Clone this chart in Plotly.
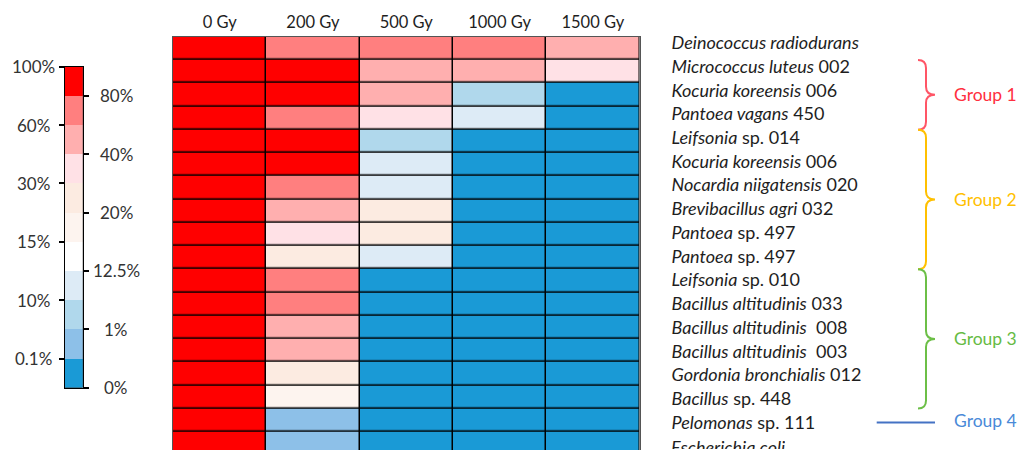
import numpy as np
import plotly.graph_objects as go

# ---------------- data ----------------
species = [
    "<i>Deinococcus radiodurans</i>",
    "<i>Micrococcus luteus</i> 002",
    "<i>Kocuria koreensis</i> 006",
    "<i>Pantoea vagans</i> 450",
    "<i>Leifsonia</i> sp. 014",
    "<i>Kocuria koreensis</i> 006",
    "<i>Nocardia niigatensis</i> 020",
    "<i>Brevibacillus agri</i> 032",
    "<i>Pantoea</i> sp. 497",
    "<i>Pantoea</i> sp. 497",
    "<i>Leifsonia</i> sp. 010",
    "<i>Bacillus altitudinis</i> 033",
    "<i>Bacillus altitudinis</i>  008",
    "<i>Bacillus altitudinis</i>  003",
    "<i>Gordonia bronchialis</i> 012",
    "<i>Bacillus</i> sp. 448",
    "<i>Pelomonas</i> sp. 111",
    "<i>Escherichia coli</i>",
]
doses = ["0 Gy", "200 Gy", "500 Gy", "1000 Gy", "1500 Gy"]

# survival (%) estimated per strain for each dose
surv_0gy    = [90, 90, 90, 90, 90, 90, 90, 90, 90, 90, 90, 90, 90, 90, 90, 90, 90, 90]
surv_200gy  = [70, 90, 90, 70, 90, 90, 70, 50, 35, 25, 70, 70, 50, 50, 25, 17, 0.5, 0.5]
surv_500gy  = [70, 50, 50, 35, 5, 11, 11, 25, 25, 11, 0, 0, 0, 0, 0, 0, 0, 0]
surv_1000gy = [70, 50, 5, 11, 0, 0, 0, 0, 0, 0, 0, 0, 0, 0, 0, 0, 0, 0]
surv_1500gy = [50, 35, 0, 0, 0, 0, 0, 0, 0, 0, 0, 0, 0, 0, 0, 0, 0, 0]

# colour-scale class boundaries (%) and colours (low -> high)
scale_bounds = [0, 0.1, 1, 10, 12.5, 15, 20, 30, 40, 60, 80, 100]
scale_labels = ["0%", "0.1%", "1%", "10%", "12.5%", "15%", "20%", "30%", "40%", "60%", "80%", "100%"]
bin_colors = ["#1A9AD6", "#8DC0E8", "#B0D8EC", "#DDEBF6", "#FFFFFF", "#FDF4EF",
              "#FCEBE1", "#FFE1E6", "#FFAFAF", "#FF7F7F", "#FF0000"]

# groups
group_names = ["Group 1", "Group 2", "Group 3", "Group 4"]
group_first = [1, 4, 10, 16]
group_last = [3, 9, 15, 16]
group_line_colors = ["#FF5566", "#FFC000", "#6CBF47", "#4472C4"]
group_text_colors = ["#FF2F40", "#FFC000", "#66BB44", "#4A8AD8"]

# ---------------- build ----------------
W, H = 1019, 450
n_bins = len(bin_colors)
colorscale = []
for i, c in enumerate(bin_colors):
    colorscale.append([i / n_bins, c])
    colorscale.append([(i + 1) / n_bins, c])

surv = np.array([surv_0gy, surv_200gy, surv_500gy, surv_1000gy, surv_1500gy]).T
z = np.digitize(surv, scale_bounds[1:-1])

fig = go.Figure()
fig.add_trace(go.Heatmap(
    z=z, x=list(range(len(doses))), y=list(range(len(species))),
    colorscale=colorscale, zmin=-0.5, zmax=n_bins - 0.5, showscale=False,
    xgap=1.5, ygap=1.5, hoverinfo="skip",
))
# invisible carrier for the row-label axis
fig.add_trace(go.Scatter(x=[0], y=[0], xaxis="x", yaxis="y4", mode="markers",
                         marker=dict(opacity=0), hoverinfo="skip", showlegend=False))

# legend bar as its own heatmap
fig.add_trace(go.Heatmap(
    z=[[k] for k in range(n_bins)], x=[0], y=[k + 0.5 for k in range(n_bins)],
    colorscale=colorscale, zmin=-0.5, zmax=n_bins - 0.5, showscale=False,
    xaxis="x2", yaxis="y2", hoverinfo="skip",
))
fig.add_trace(go.Scatter(x=[0], y=[0], xaxis="x2", yaxis="y3", mode="markers",
                         marker=dict(opacity=0), hoverinfo="skip", showlegend=False))

Y_TOP = 1 - 36.7 / H
Y_RANGE = (17.28, -0.5)
LABEL_RANGE = (17.16, -0.257)
X_RIGHT = 639.5
LABEL_STANDOFF = 31


def ypaper(v):
    return Y_TOP * (Y_RANGE[0] - v) / (Y_RANGE[0] - Y_RANGE[1])


font = "Lato, 'Open Sans', sans-serif"
fig.update_layout(
    width=W, height=H, margin=dict(l=0, r=0, t=0, b=0, autoexpand=False),
    paper_bgcolor="white", plot_bgcolor="black",
    font=dict(family=font, size=17, color="#1e1e1e"),
    showlegend=False,
    xaxis=dict(domain=[173 / W, X_RIGHT / W], range=[-0.5, len(doses) - 0.5], side="top",
               tickvals=list(range(len(doses))), ticktext=doses, ticks="",
               tickfont=dict(size=16.5), automargin=False,
               showgrid=False, zeroline=False, showline=True, linecolor="#555",
               mirror=True, anchor="y", ticklabelstandoff=1),
    yaxis=dict(domain=[0, Y_TOP], range=list(Y_RANGE), side="right",
               showticklabels=False, ticks="", automargin=False,
               showgrid=False, zeroline=False, showline=True, linecolor="#555",
               mirror=True, anchor="x"),
    yaxis4=dict(overlaying="y", anchor="x", side="right", range=list(LABEL_RANGE),
                tickvals=list(range(len(species) - 1)), ticktext=species[:-1], ticks="",
                tickfont=dict(size=18), ticklabeloverflow="hide past div", automargin=False,
                showgrid=False, zeroline=False, showline=False,
                ticklabelstandoff=LABEL_STANDOFF),
    xaxis2=dict(domain=[65 / W, 82.7 / W], range=[-0.5, 0.5], anchor="y2",
                showticklabels=False, ticks="", showgrid=False, zeroline=False,
                automargin=False, showline=True, linecolor="black", mirror=True),
    yaxis2=dict(domain=[1 - 387.7 / H, 1 - 66.7 / H], range=[0, n_bins], anchor="x2",
                side="left", tickvals=list(range(n_bins, -1, -2)), ticks="outside",
                ticklen=5, tickwidth=2, tickcolor="black", showticklabels=False,
                automargin=False, showgrid=False, zeroline=False, showline=True,
                linecolor="black", mirror=True),
    yaxis3=dict(overlaying="y2", anchor="x2", side="right", range=[0, n_bins],
                tickvals=list(range(n_bins - 1, -1, -2)), ticks="outside",
                ticklen=5, tickwidth=2, tickcolor="black", showticklabels=False,
                automargin=False, showgrid=False, zeroline=False, showline=False),
)

# last strain label: its row is cut by the lower edge, so only the top of the text shows
fig.add_annotation(x=(X_RIGHT + LABEL_STANDOFF - 1) / W, xref="paper", y=0, yref="paper",
                   text=species[-1], showarrow=False, xanchor="left", yanchor="bottom",
                   height=13, valign="top", font=dict(size=18), borderpad=0)

# legend tick labels (alternating sides)
for k, lab in enumerate(scale_labels):
    left = (n_bins - k) % 2 == 0
    fig.add_annotation(x=(33 if left else 116) / W, xref="paper", y=k, yref="y2",
                       text=lab, showarrow=False, xanchor="center", yanchor="middle",
                       font=dict(size=17, color="#333"))

# group braces
x_end, x_mid, x_tip = 918 / W, 926 / W, 935 / W
r = 8 / H
for name, a, b, lc, tc in zip(group_names, group_first, group_last,
                              group_line_colors, group_text_colors):
    mid = (a + b) / 2
    if a == b:
        fig.add_shape(type="line", xref="paper", yref="paper",
                      x0=876.7 / W, x1=x_tip, y0=ypaper(mid + 0.1), y1=ypaper(mid + 0.1),
                      line=dict(color=lc, width=2))
    else:
        yt, yb, ym = ypaper(a - 0.5), ypaper(b + 0.5), ypaper(mid)
        path = (f"M {x_end},{yt} Q {x_mid},{yt} {x_mid},{yt - r} "
                f"L {x_mid},{ym + r} Q {x_mid},{ym} {x_tip},{ym} "
                f"Q {x_mid},{ym} {x_mid},{ym - r} "
                f"L {x_mid},{yb + r} Q {x_mid},{yb} {x_end},{yb}")
        fig.add_shape(type="path", xref="paper", yref="paper", path=path,
                      line=dict(color=lc, width=2))
    fig.add_annotation(x=952 / W, xref="paper", y=mid, yref="y", text=name,
                       showarrow=False, xanchor="left", yanchor="middle",
                       font=dict(size=17.5, color=tc))

post = "document.body.style.margin='0';document.body.style.overflow='hidden';"
fig.write_html("out.html", config={"displayModeBar": False}, post_script=post)
